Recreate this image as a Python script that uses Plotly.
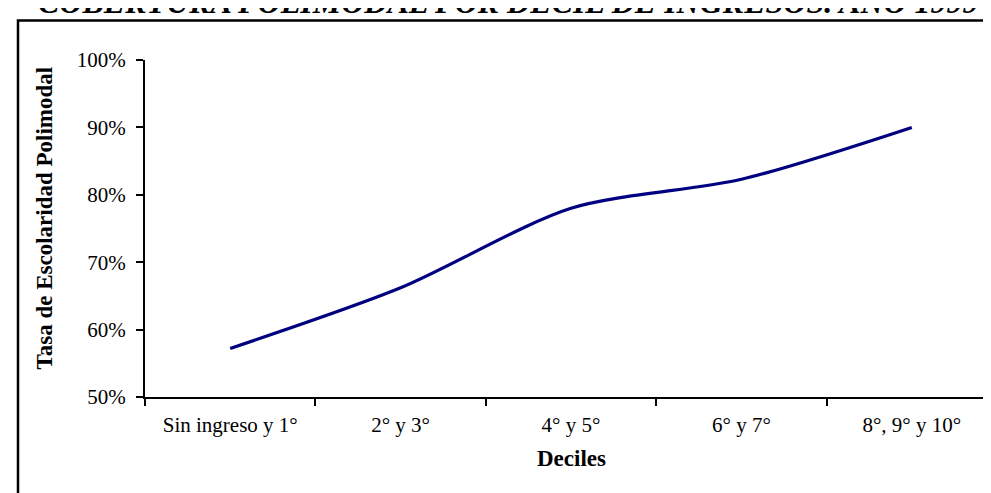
import plotly.graph_objects as go

categories = ["Sin ingreso y 1°", "2° y 3°", "4° y 5°", "6° y 7°", "8°, 9° y 10°"]
tasa = [0.572, 0.662, 0.780, 0.823, 0.900]
y_ticks = [0.5, 0.6, 0.7, 0.8, 0.9, 1.0]

title_text = "COBERTURA POLIMODAL POR DECIL DE INGRESOS. AÑO 1999"
y_title = "Tasa de Escolaridad Polimodal"
x_title = "Deciles"

FONT = "Liberation Serif"
W, H = 991, 493
L, R, T, B = 137, 2, 52, 104
PW, PH = W - L - R, H - T - B


def px(x):
    return (x - L) / PW


def py(y):
    return (H - B - y) / PH


fig = go.Figure()
fig.add_trace(go.Scatter(
    x=categories, y=tasa, mode="lines",
    line=dict(color="#000080", width=3.2, shape="spline", smoothing=0.8),
    hoverinfo="x+y", showlegend=False,
))

fig.update_layout(
    width=W, height=H,
    margin=dict(l=L, r=R, t=T, b=B),
    paper_bgcolor="white", plot_bgcolor="white",
    font=dict(family=FONT, size=21, color="black"),
    xaxis=dict(
        type="category", range=[-0.5, 4.5], tickson="boundaries",
        showline=True, linecolor="black", linewidth=2,
        ticks="outside", ticklen=7, tickwidth=2, tickcolor="black",
        showgrid=False, zeroline=False, ticklabelstandoff=8,
        tickfont=dict(family=FONT, size=21, color="black"),
    ),
    yaxis=dict(
        range=[0.5, 1.0], tickvals=y_ticks, tickformat=".0%",
        showline=True, linecolor="black", linewidth=2,
        ticks="outside", ticklen=7, tickwidth=2, tickcolor="black",
        showgrid=False, zeroline=False, ticklabelstandoff=6,
        tickfont=dict(family=FONT, size=21, color="black"),
    ),
    shapes=[dict(
        type="rect", xref="paper", yref="paper",
        x0=px(10), x1=1.3, y0=-0.6, y1=py(12.5),
        line=dict(color="black", width=2.5), fillcolor="rgba(0,0,0,0)",
        layer="below",
    )],
    annotations=[
        dict(text=title_text, xref="paper", yref="paper",
             x=px(500), y=py(-5.7), xanchor="center", yanchor="middle",
             showarrow=False,
             font=dict(family=FONT, size=32, color="black", weight="bold", style="italic")),
        dict(text=y_title, xref="paper", yref="paper",
             x=px(35.5), y=py(210), xanchor="center", yanchor="middle",
             textangle=-90, showarrow=False,
             font=dict(family=FONT, size=23, color="black", weight="bold")),
        dict(text=x_title, xref="paper", yref="paper",
             x=px(563), y=py(450), xanchor="center", yanchor="middle",
             showarrow=False,
             font=dict(family=FONT, size=23, color="black", weight="bold")),
    ],
)

fig.write_html("out.html")
